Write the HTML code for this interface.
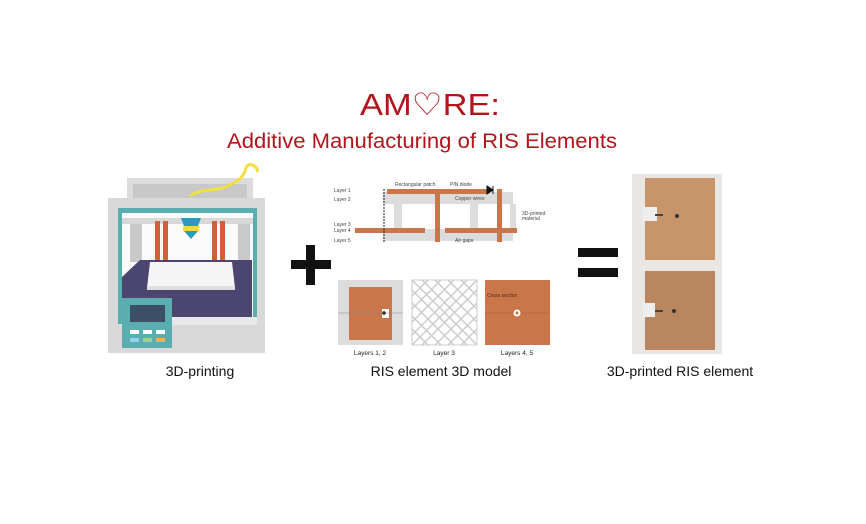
<!DOCTYPE html>
<html><head><meta charset="utf-8"><style>
html,body{margin:0;padding:0;background:#fff;}
svg{display:block;font-family:"Liberation Sans",Arial,sans-serif;}
</style></head><body>
<svg width="866" height="524" viewBox="0 0 866 524" xmlns="http://www.w3.org/2000/svg">
<rect width="866" height="524" fill="#fff"/>
<text x="430" y="115" text-anchor="middle" font-size="31" fill="#b3141b" textLength="140" lengthAdjust="spacingAndGlyphs">AM♡RE:</text>
<text x="422" y="148" text-anchor="middle" font-size="21" fill="#b3141b" textLength="390" lengthAdjust="spacingAndGlyphs">Additive Manufacturing of RIS Elements</text>

<!-- Printer -->
<rect x="127" y="178" width="126" height="22" fill="#dcdcdc"/>
<rect x="133" y="184" width="114" height="14" fill="#c8c8c8"/>
<path d="M190 196 C200 188 215 192 228 186 C240 180 244 176 246 168 C248 162 256 164 258 172" stroke="#f0e040" stroke-width="3" fill="none"/>
<rect x="108" y="198" width="157" height="155" fill="#d9d9d9"/>
<rect x="118" y="208" width="139" height="116" fill="#5aaeb0"/>
<rect x="122" y="213" width="131" height="106" fill="#fafafa"/>
<rect x="130" y="222" width="12" height="40" fill="#c9c9c9"/>
<rect x="238" y="222" width="12" height="40" fill="#c9c9c9"/>
<rect x="122" y="218" width="131" height="6" fill="#d8d8d8"/>
<rect x="155" y="221" width="5" height="40" fill="#d0603a"/>
<rect x="163" y="221" width="5" height="40" fill="#d0603a"/>
<rect x="212" y="221" width="5" height="40" fill="#d0603a"/>
<rect x="220" y="221" width="5" height="40" fill="#d0603a"/>
<path d="M181 218 h20 l-3 8 h-14z" fill="#2a9bc0"/>
<rect x="183" y="226" width="16" height="5" fill="#e8e040"/>
<path d="M184 231 h14 l-7 8z" fill="#2a9bc0"/>
<path d="M140 260 h112 v57 h-130 v-40z" fill="#4a4670"/>
<path d="M150 262 h82 l3 26 h-88z" fill="#f5f5f5"/>
<rect x="147" y="286" width="88" height="4" fill="#e0e0e0"/>
<rect x="170" y="317" width="87" height="8" fill="#e8e8e8"/>
<rect x="122" y="298" width="50" height="50" fill="#5aaeb0"/>
<rect x="130" y="305" width="35" height="17" fill="#3d4f66"/>
<rect x="130" y="330" width="9" height="4" fill="#fff"/><rect x="143" y="330" width="9" height="4" fill="#fff"/><rect x="156" y="330" width="9" height="4" fill="#fff"/>
<rect x="130" y="338" width="9" height="4" fill="#8fd3f0"/><rect x="143" y="338" width="9" height="4" fill="#9ad48a"/><rect x="156" y="338" width="9" height="4" fill="#f0b050"/>
<text x="200" y="376" text-anchor="middle" font-size="14" fill="#111">3D-printing</text>

<rect x="291" y="260" width="40" height="9" fill="#111"/>
<rect x="306" y="245" width="9" height="40" fill="#111"/>

<g font-size="5" fill="#444">
<rect x="383" y="192" width="130" height="12" fill="#dcdcdc"/>
<rect x="383" y="229" width="130" height="12" fill="#dcdcdc"/>
<rect x="394" y="204" width="8" height="25" fill="#dcdcdc"/>
<rect x="470" y="204" width="8" height="25" fill="#dcdcdc"/>
<rect x="510" y="204" width="6" height="25" fill="#dcdcdc"/>
<rect x="387" y="189" width="100" height="5" fill="#c9764a"/>
<rect x="355" y="228" width="70" height="5" fill="#c9764a"/>
<rect x="445" y="228" width="72" height="5" fill="#c9764a"/>
<rect x="435" y="189" width="5" height="53" fill="#c9764a"/>
<rect x="497" y="189" width="5" height="53" fill="#c9764a"/>
<path d="M487 186 l6 4 l-6 4z M493 186 v8" fill="#111" stroke="#111"/>
<line x1="384" y1="189" x2="384" y2="242" stroke="#222" stroke-width="1" stroke-dasharray="2,1"/>
<text x="334" y="192">Layer 1</text><text x="334" y="201">Layer 2</text>
<text x="334" y="226">Layer 3</text><text x="334" y="232">Layer 4</text><text x="334" y="242">Layer 5</text>
<text x="395" y="186">Rectangular patch</text><text x="450" y="186">PIN diode</text>
<text x="455" y="200">Copper wires</text><text x="455" y="242">Air gaps</text>
<text x="522" y="215">3D-printed</text><text x="522" y="220">material</text>
</g>
<rect x="338" y="280" width="65" height="65" fill="#dcdcdc"/>
<rect x="349" y="287" width="43" height="53" fill="#c9764a"/>
<rect x="382" y="309" width="7" height="9" fill="#fff"/>
<circle cx="384" cy="313" r="1.8" fill="#111"/>
<line x1="338" y1="313" x2="403" y2="313" stroke="#888" stroke-width="0.5"/>
<rect x="412" y="280" width="65" height="65" fill="#fff" stroke="#ccc"/>
<g stroke="#ccc" stroke-width="1.5">
<path d="M412 290 l55 55 M412 303 l42 42 M412 316 l29 29 M412 329 l16 16 M422 280 l55 55 M435 280 l42 42 M448 280 l29 29 M461 280 l16 16 M412 280 l65 65"/>
<path d="M477 290 l-55 55 M477 303 l-42 42 M477 316 l-29 29 M477 329 l-16 16 M467 280 l-55 55 M454 280 l-42 42 M441 280 l-29 29 M428 280 l-16 16 M477 280 l-65 65"/>
</g>
<rect x="485" y="280" width="65" height="65" fill="#c9764a"/>
<line x1="485" y1="313" x2="550" y2="313" stroke="#a05a3a" stroke-width="0.5"/>
<circle cx="517" cy="313" r="3.5" fill="#fff"/><circle cx="517" cy="313" r="1.5" fill="#c9764a"/>
<text x="487" y="297" font-size="5" fill="#5a2a14">Cross section</text>
<g font-size="6.5" fill="#222" text-anchor="middle">
<text x="370" y="355">Layers 1, 2</text><text x="444" y="355">Layer 3</text><text x="517" y="355">Layers 4, 5</text>
</g>
<text x="441" y="376" text-anchor="middle" font-size="14" fill="#111">RIS element 3D model</text>

<rect x="578" y="248" width="40" height="9" fill="#111"/>
<rect x="578" y="268" width="40" height="9" fill="#111"/>

<rect x="632" y="174" width="90" height="180" fill="#e9e6e3"/>
<rect x="645" y="178" width="70" height="82" fill="#c8946a"/>
<rect x="645" y="271" width="70" height="79" fill="#b98660"/>
<path d="M643 207 h14 v14 h-14z" fill="#eee"/>
<path d="M643 303 h12 v14 h-12z" fill="#eee"/>
<rect x="655" y="214" width="8" height="2" fill="#444"/><circle cx="677" cy="216" r="2" fill="#333"/>
<rect x="655" y="310" width="8" height="2" fill="#444"/><circle cx="674" cy="311" r="2" fill="#333"/>
<text x="680" y="376" text-anchor="middle" font-size="14" fill="#111">3D-printed RIS element</text>
</svg>
</body></html>
